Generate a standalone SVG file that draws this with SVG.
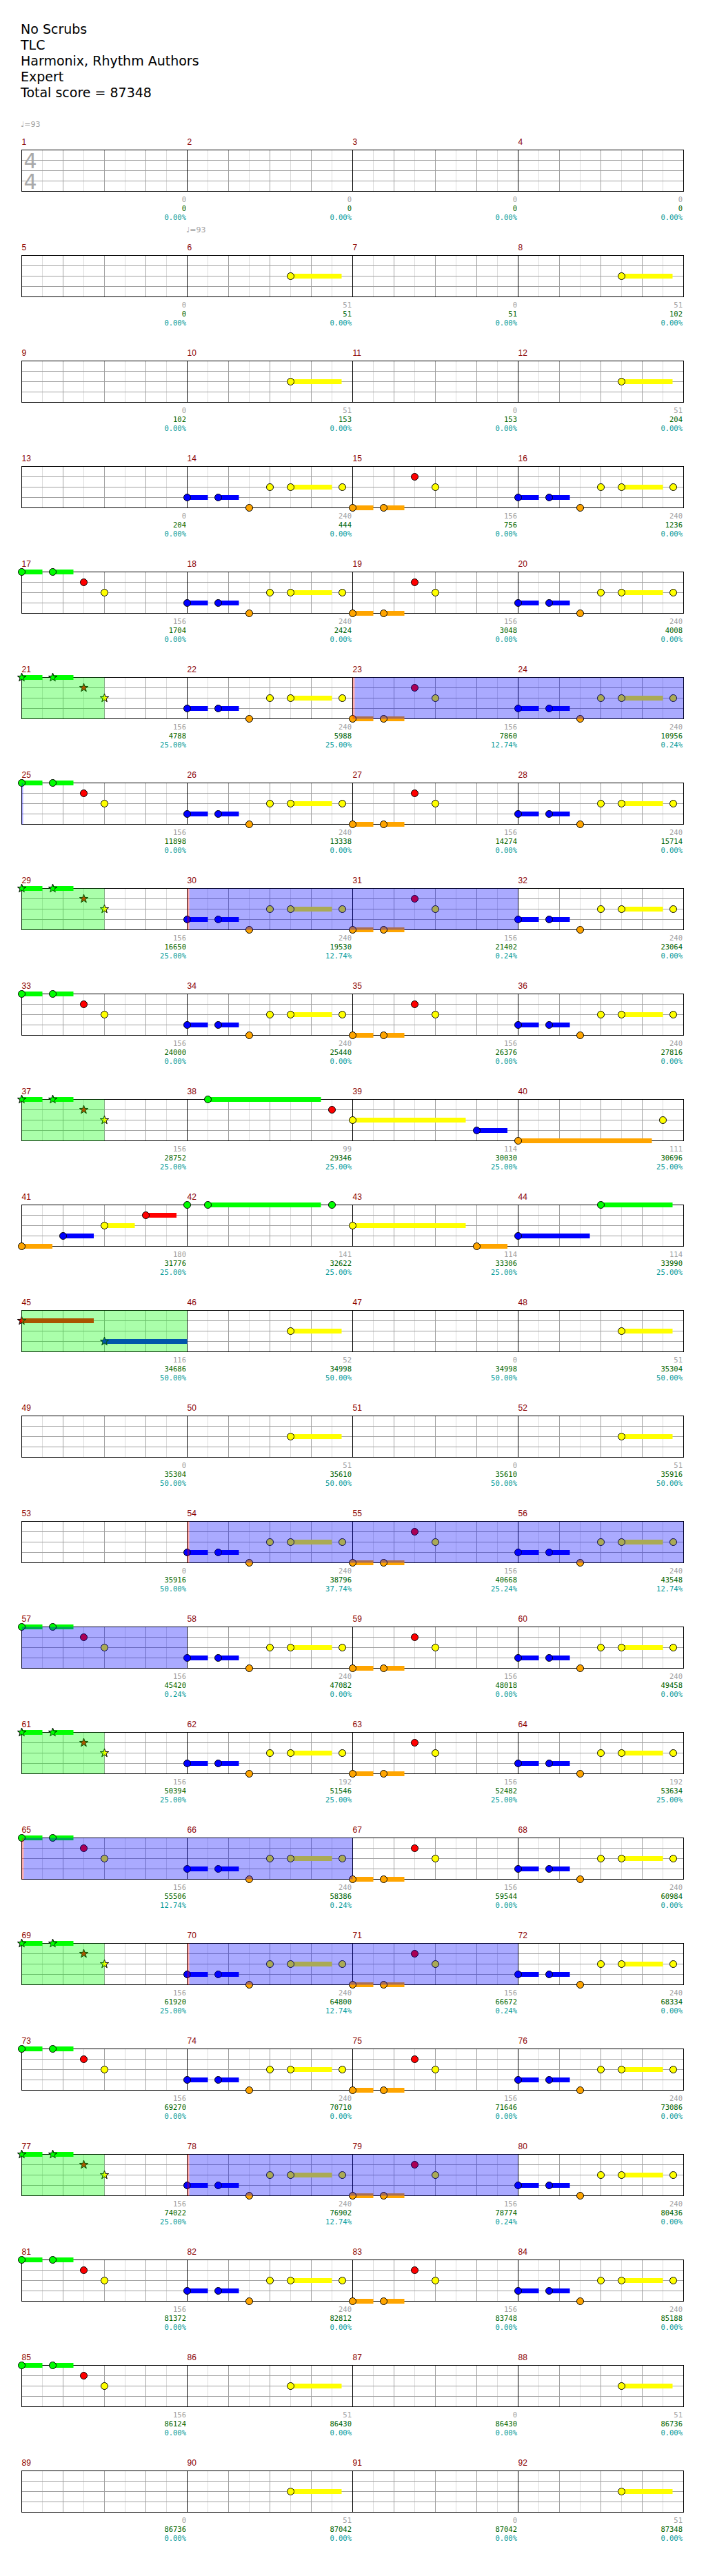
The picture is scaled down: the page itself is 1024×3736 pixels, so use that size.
<svg xmlns="http://www.w3.org/2000/svg" xmlns:xlink="http://www.w3.org/1999/xlink" width="1024" height="3736" viewBox="0 0 1024 3736">
<style>
.t{font-family:"DejaVu Sans",sans-serif;font-size:19px;fill:#000}
.mn{font-family:"Liberation Sans",Arial,sans-serif;font-size:12px;fill:#8b0000}
.n1,.n2,.n3{font-family:"DejaVu Sans Mono",monospace;font-size:10.5px;text-anchor:end}
.n1{fill:#a0a0a0}.n2{fill:#006400}.n3{fill:#009999}
.tempo{font-family:"DejaVu Sans",sans-serif;font-size:11px;fill:#a0a0a0}
.ts{font-family:"DejaVu Sans",sans-serif;font-size:30px;fill:#a9a9a9}
.hb{stroke:#dcdcdc;fill:none}
.bl{stroke:#a0a0a0;fill:none}
.ml{stroke:#000;fill:none}
.bd{fill:none;stroke:#000}
circle{stroke:#000;stroke-width:1}
.g{fill:#00ff00}.r{fill:#ff0000}.y{fill:#ffff00}.b{fill:#0000ff}.o{fill:#ffa500}
.od{fill:#0000ff;fill-opacity:0.333}
.sp{fill:#00ff00;fill-opacity:0.333}
.act{fill:#ff0000;fill-opacity:0.333}
</style>
<defs>
<path id="star" stroke="#000" stroke-width="1" d="M0,-6.5L1.53,-2.1L6.18,-2.01L2.47,0.8L3.82,5.26L0,2.6L-3.82,5.26L-2.47,0.8L-6.18,-2.01L-1.53,-2.1Z"/>
<g id="staff">
<rect width="960" height="60" fill="#fff"/>
<path class="hb" d="M30 0v60M90 0v60M150 0v60M210 0v60M270 0v60M330 0v60M390 0v60M450 0v60M510 0v60M570 0v60M630 0v60M690 0v60M750 0v60M810 0v60M870 0v60M930 0v60"/>
<path class="bl" d="M0 15h960M0 30h960M0 45h960M60 0v60M120 0v60M180 0v60M300 0v60M360 0v60M420 0v60M540 0v60M600 0v60M660 0v60M780 0v60M840 0v60M900 0v60"/>
<path class="ml" d="M240 0v60M480 0v60M720 0v60"/>
<rect class="bd" width="960" height="60"/>
</g>
<g id="pB">
<rect class="b" x="0" y="41.5" width="30" height="7"/>
<rect class="b" x="45" y="41.5" width="30" height="7"/>
<rect class="y" x="150" y="26.5" width="60" height="7"/>
<circle class="b" cx="0" cy="45" r="5"/>
<circle class="b" cx="45" cy="45" r="5"/>
<circle class="o" cx="90" cy="60" r="5"/>
<circle class="y" cx="120" cy="30" r="5"/>
<circle class="y" cx="150" cy="30" r="5"/>
<circle class="y" cx="225" cy="30" r="5"/>
</g>
<g id="pG">
<rect class="g" x="0" y="-3.5" width="30" height="7"/>
<rect class="g" x="45" y="-3.5" width="30" height="7"/>
<circle class="g" cx="0" cy="0" r="5"/>
<circle class="g" cx="45" cy="0" r="5"/>
<circle class="r" cx="90" cy="15" r="5"/>
<circle class="y" cx="120" cy="30" r="5"/>
</g>
<g id="pO">
<rect class="o" x="0" y="56.5" width="30" height="7"/>
<rect class="o" x="45" y="56.5" width="30" height="7"/>
<circle class="o" cx="0" cy="60" r="5"/>
<circle class="o" cx="45" cy="60" r="5"/>
<circle class="r" cx="90" cy="15" r="5"/>
<circle class="y" cx="120" cy="30" r="5"/>
</g>
<g id="pS">
<rect class="g" x="0" y="-3.5" width="30" height="7"/>
<rect class="g" x="45" y="-3.5" width="30" height="7"/>
<use xlink:href="#star" href="#star" class="g" x="0" y="0"/>
<use xlink:href="#star" href="#star" class="g" x="45" y="0"/>
<use xlink:href="#star" href="#star" class="r" x="90" y="15"/>
<use xlink:href="#star" href="#star" class="y" x="120" y="30"/>
</g>
<g id="pY">
<rect class="y" x="150" y="26.5" width="74" height="7"/>
<circle class="y" cx="150" cy="30" r="5"/>
</g>
</defs>
<rect width="1024" height="3736" fill="#fff"/>
<g id="header">
<text class="t" x="30" y="49">No Scrubs</text>
<text class="t" x="30" y="72">TLC</text>
<text class="t" x="30" y="95">Harmonix, Rhythm Authors</text>
<text class="t" x="30" y="118">Expert</text>
<text class="t" x="30" y="141">Total score = 87348</text>
<text class="tempo" x="30" y="184">♩=93</text>
<text class="tempo" x="270" y="337">♩=93</text>
</g>

<g id="row1" transform="translate(31.5,217.5)">
<use href="#staff"/>
<text class="ts" x="3" y="26.5">4</text><text class="ts" x="3" y="56.5">4</text>
<text class="mn" x="0" y="-7.5">1</text><text class="mn" x="240" y="-7.5">2</text><text class="mn" x="480" y="-7.5">3</text><text class="mn" x="720" y="-7.5">4</text>
<text class="n1" x="238.5" y="75">0</text><text class="n2" x="238.5" y="88">0</text><text class="n3" x="238.5" y="101">0.00%</text>
<text class="n1" x="478.5" y="75">0</text><text class="n2" x="478.5" y="88">0</text><text class="n3" x="478.5" y="101">0.00%</text>
<text class="n1" x="718.5" y="75">0</text><text class="n2" x="718.5" y="88">0</text><text class="n3" x="718.5" y="101">0.00%</text>
<text class="n1" x="958.5" y="75">0</text><text class="n2" x="958.5" y="88">0</text><text class="n3" x="958.5" y="101">0.00%</text>
</g>

<g id="row2" transform="translate(31.5,370.5)">
<use href="#staff"/>
<use href="#pY" x="240"/><use href="#pY" x="720"/>
<text class="mn" x="0" y="-7.5">5</text><text class="mn" x="240" y="-7.5">6</text><text class="mn" x="480" y="-7.5">7</text><text class="mn" x="720" y="-7.5">8</text>
<text class="n1" x="238.5" y="75">0</text><text class="n2" x="238.5" y="88">0</text><text class="n3" x="238.5" y="101">0.00%</text>
<text class="n1" x="478.5" y="75">51</text><text class="n2" x="478.5" y="88">51</text><text class="n3" x="478.5" y="101">0.00%</text>
<text class="n1" x="718.5" y="75">0</text><text class="n2" x="718.5" y="88">51</text><text class="n3" x="718.5" y="101">0.00%</text>
<text class="n1" x="958.5" y="75">51</text><text class="n2" x="958.5" y="88">102</text><text class="n3" x="958.5" y="101">0.00%</text>
</g>

<g id="row3" transform="translate(31.5,523.5)">
<use href="#staff"/>
<use href="#pY" x="240"/><use href="#pY" x="720"/>
<text class="mn" x="0" y="-7.5">9</text><text class="mn" x="240" y="-7.5">10</text><text class="mn" x="480" y="-7.5">11</text><text class="mn" x="720" y="-7.5">12</text>
<text class="n1" x="238.5" y="75">0</text><text class="n2" x="238.5" y="88">102</text><text class="n3" x="238.5" y="101">0.00%</text>
<text class="n1" x="478.5" y="75">51</text><text class="n2" x="478.5" y="88">153</text><text class="n3" x="478.5" y="101">0.00%</text>
<text class="n1" x="718.5" y="75">0</text><text class="n2" x="718.5" y="88">153</text><text class="n3" x="718.5" y="101">0.00%</text>
<text class="n1" x="958.5" y="75">51</text><text class="n2" x="958.5" y="88">204</text><text class="n3" x="958.5" y="101">0.00%</text>
</g>

<g id="row4" transform="translate(31.5,676.5)">
<use href="#staff"/>
<use href="#pB" x="240"/><use href="#pO" x="480"/><use href="#pB" x="720"/>
<text class="mn" x="0" y="-7.5">13</text><text class="mn" x="240" y="-7.5">14</text><text class="mn" x="480" y="-7.5">15</text><text class="mn" x="720" y="-7.5">16</text>
<text class="n1" x="238.5" y="75">0</text><text class="n2" x="238.5" y="88">204</text><text class="n3" x="238.5" y="101">0.00%</text>
<text class="n1" x="478.5" y="75">240</text><text class="n2" x="478.5" y="88">444</text><text class="n3" x="478.5" y="101">0.00%</text>
<text class="n1" x="718.5" y="75">156</text><text class="n2" x="718.5" y="88">756</text><text class="n3" x="718.5" y="101">0.00%</text>
<text class="n1" x="958.5" y="75">240</text><text class="n2" x="958.5" y="88">1236</text><text class="n3" x="958.5" y="101">0.00%</text>
</g>

<g id="row5" transform="translate(31.5,829.5)">
<use href="#staff"/>
<use href="#pG"/><use href="#pB" x="240"/><use href="#pO" x="480"/><use href="#pB" x="720"/>
<text class="mn" x="0" y="-7.5">17</text><text class="mn" x="240" y="-7.5">18</text><text class="mn" x="480" y="-7.5">19</text><text class="mn" x="720" y="-7.5">20</text>
<text class="n1" x="238.5" y="75">156</text><text class="n2" x="238.5" y="88">1704</text><text class="n3" x="238.5" y="101">0.00%</text>
<text class="n1" x="478.5" y="75">240</text><text class="n2" x="478.5" y="88">2424</text><text class="n3" x="478.5" y="101">0.00%</text>
<text class="n1" x="718.5" y="75">156</text><text class="n2" x="718.5" y="88">3048</text><text class="n3" x="718.5" y="101">0.00%</text>
<text class="n1" x="958.5" y="75">240</text><text class="n2" x="958.5" y="88">4008</text><text class="n3" x="958.5" y="101">0.00%</text>
</g>

<g id="row6" transform="translate(31.5,982.5)">
<use href="#staff"/>
<use href="#pS"/><use href="#pB" x="240"/><use href="#pO" x="480"/><use href="#pB" x="720"/>
<rect class="sp" x="0" y="0" width="120" height="60"/>
<rect class="act" x="480" y="0" width="3" height="60"/>
<rect class="od" x="483" y="0" width="477" height="60"/>
<text class="mn" x="0" y="-7.5">21</text><text class="mn" x="240" y="-7.5">22</text><text class="mn" x="480" y="-7.5">23</text><text class="mn" x="720" y="-7.5">24</text>
<text class="n1" x="238.5" y="75">156</text><text class="n2" x="238.5" y="88">4788</text><text class="n3" x="238.5" y="101">25.00%</text>
<text class="n1" x="478.5" y="75">240</text><text class="n2" x="478.5" y="88">5988</text><text class="n3" x="478.5" y="101">25.00%</text>
<text class="n1" x="718.5" y="75">156</text><text class="n2" x="718.5" y="88">7860</text><text class="n3" x="718.5" y="101">12.74%</text>
<text class="n1" x="958.5" y="75">240</text><text class="n2" x="958.5" y="88">10956</text><text class="n3" x="958.5" y="101">0.24%</text>
</g>

<g id="row7" transform="translate(31.5,1135.5)">
<use href="#staff"/>
<use href="#pG"/><use href="#pB" x="240"/><use href="#pO" x="480"/><use href="#pB" x="720"/>
<rect class="od" x="0" y="0" width="2" height="60"/>
<text class="mn" x="0" y="-7.5">25</text><text class="mn" x="240" y="-7.5">26</text><text class="mn" x="480" y="-7.5">27</text><text class="mn" x="720" y="-7.5">28</text>
<text class="n1" x="238.5" y="75">156</text><text class="n2" x="238.5" y="88">11898</text><text class="n3" x="238.5" y="101">0.00%</text>
<text class="n1" x="478.5" y="75">240</text><text class="n2" x="478.5" y="88">13338</text><text class="n3" x="478.5" y="101">0.00%</text>
<text class="n1" x="718.5" y="75">156</text><text class="n2" x="718.5" y="88">14274</text><text class="n3" x="718.5" y="101">0.00%</text>
<text class="n1" x="958.5" y="75">240</text><text class="n2" x="958.5" y="88">15714</text><text class="n3" x="958.5" y="101">0.00%</text>
</g>

<g id="row8" transform="translate(31.5,1288.5)">
<use href="#staff"/>
<use href="#pS"/><use href="#pB" x="240"/><use href="#pO" x="480"/><use href="#pB" x="720"/>
<rect class="sp" x="0" y="0" width="120" height="60"/>
<rect class="act" x="240" y="0" width="3" height="60"/>
<rect class="od" x="243" y="0" width="477" height="60"/>
<text class="mn" x="0" y="-7.5">29</text><text class="mn" x="240" y="-7.5">30</text><text class="mn" x="480" y="-7.5">31</text><text class="mn" x="720" y="-7.5">32</text>
<text class="n1" x="238.5" y="75">156</text><text class="n2" x="238.5" y="88">16650</text><text class="n3" x="238.5" y="101">25.00%</text>
<text class="n1" x="478.5" y="75">240</text><text class="n2" x="478.5" y="88">19530</text><text class="n3" x="478.5" y="101">12.74%</text>
<text class="n1" x="718.5" y="75">156</text><text class="n2" x="718.5" y="88">21402</text><text class="n3" x="718.5" y="101">0.24%</text>
<text class="n1" x="958.5" y="75">240</text><text class="n2" x="958.5" y="88">23064</text><text class="n3" x="958.5" y="101">0.00%</text>
</g>

<g id="row9" transform="translate(31.5,1441.5)">
<use href="#staff"/>
<use href="#pG"/><use href="#pB" x="240"/><use href="#pO" x="480"/><use href="#pB" x="720"/>
<text class="mn" x="0" y="-7.5">33</text><text class="mn" x="240" y="-7.5">34</text><text class="mn" x="480" y="-7.5">35</text><text class="mn" x="720" y="-7.5">36</text>
<text class="n1" x="238.5" y="75">156</text><text class="n2" x="238.5" y="88">24000</text><text class="n3" x="238.5" y="101">0.00%</text>
<text class="n1" x="478.5" y="75">240</text><text class="n2" x="478.5" y="88">25440</text><text class="n3" x="478.5" y="101">0.00%</text>
<text class="n1" x="718.5" y="75">156</text><text class="n2" x="718.5" y="88">26376</text><text class="n3" x="718.5" y="101">0.00%</text>
<text class="n1" x="958.5" y="75">240</text><text class="n2" x="958.5" y="88">27816</text><text class="n3" x="958.5" y="101">0.00%</text>
</g>

<g id="row10" transform="translate(31.5,1594.5)">
<use href="#staff"/>
<use href="#pS"/>
<rect class="g" x="270" y="-3.5" width="164" height="7"/>
<circle class="g" cx="270" cy="0" r="5"/>
<circle class="r" cx="450" cy="15" r="5"/>
<rect class="y" x="480" y="26.5" width="164" height="7"/>
<circle class="y" cx="480" cy="30" r="5"/>
<rect class="b" x="660" y="41.5" width="44.5" height="7"/>
<circle class="b" cx="660" cy="45" r="5"/>
<rect class="o" x="720" y="56.5" width="194" height="7"/>
<circle class="o" cx="720" cy="60" r="5"/>
<circle class="y" cx="930" cy="30" r="5"/>
<rect class="sp" x="0" y="0" width="120" height="60"/>
<text class="mn" x="0" y="-7.5">37</text><text class="mn" x="240" y="-7.5">38</text><text class="mn" x="480" y="-7.5">39</text><text class="mn" x="720" y="-7.5">40</text>
<text class="n1" x="238.5" y="75">156</text><text class="n2" x="238.5" y="88">28752</text><text class="n3" x="238.5" y="101">25.00%</text>
<text class="n1" x="478.5" y="75">99</text><text class="n2" x="478.5" y="88">29346</text><text class="n3" x="478.5" y="101">25.00%</text>
<text class="n1" x="718.5" y="75">114</text><text class="n2" x="718.5" y="88">30030</text><text class="n3" x="718.5" y="101">25.00%</text>
<text class="n1" x="958.5" y="75">111</text><text class="n2" x="958.5" y="88">30696</text><text class="n3" x="958.5" y="101">25.00%</text>
</g>

<g id="row11" transform="translate(31.5,1747.5)">
<use href="#staff"/>
<rect class="o" x="0" y="56.5" width="44.5" height="7"/>
<rect class="b" x="60" y="41.5" width="44.5" height="7"/>
<rect class="y" x="120" y="26.5" width="44" height="7"/>
<rect class="r" x="180" y="11.5" width="44.5" height="7"/>
<rect class="g" x="270" y="-3.5" width="164" height="7"/>
<rect class="y" x="480" y="26.5" width="164" height="7"/>
<rect class="o" x="660" y="56.5" width="44.5" height="7"/>
<rect class="b" x="720" y="41.5" width="104" height="7"/>
<rect class="g" x="840" y="-3.5" width="104" height="7"/>
<circle class="o" cx="0" cy="60" r="5"/>
<circle class="b" cx="60" cy="45" r="5"/>
<circle class="y" cx="120" cy="30" r="5"/>
<circle class="r" cx="180" cy="15" r="5"/>
<circle class="g" cx="240" cy="0" r="5"/>
<circle class="g" cx="270" cy="0" r="5"/>
<circle class="g" cx="450" cy="0" r="5"/>
<circle class="y" cx="480" cy="30" r="5"/>
<circle class="o" cx="660" cy="60" r="5"/>
<circle class="b" cx="720" cy="45" r="5"/>
<circle class="g" cx="840" cy="0" r="5"/>
<text class="mn" x="0" y="-7.5">41</text><text class="mn" x="240" y="-7.5">42</text><text class="mn" x="480" y="-7.5">43</text><text class="mn" x="720" y="-7.5">44</text>
<text class="n1" x="238.5" y="75">180</text><text class="n2" x="238.5" y="88">31776</text><text class="n3" x="238.5" y="101">25.00%</text>
<text class="n1" x="478.5" y="75">141</text><text class="n2" x="478.5" y="88">32622</text><text class="n3" x="478.5" y="101">25.00%</text>
<text class="n1" x="718.5" y="75">114</text><text class="n2" x="718.5" y="88">33306</text><text class="n3" x="718.5" y="101">25.00%</text>
<text class="n1" x="958.5" y="75">114</text><text class="n2" x="958.5" y="88">33990</text><text class="n3" x="958.5" y="101">25.00%</text>
</g>

<g id="row12" transform="translate(31.5,1900.5)">
<use href="#staff"/>
<rect class="r" x="0" y="11.5" width="104.5" height="7"/>
<rect class="b" x="120" y="41.5" width="120" height="7"/>
<use href="#star" class="r" x="0" y="15"/>
<use href="#star" class="b" x="120" y="45"/>
<use href="#pY" x="240"/><use href="#pY" x="720"/>
<rect class="sp" x="0" y="0" width="240" height="60"/>
<text class="mn" x="0" y="-7.5">45</text><text class="mn" x="240" y="-7.5">46</text><text class="mn" x="480" y="-7.5">47</text><text class="mn" x="720" y="-7.5">48</text>
<text class="n1" x="238.5" y="75">116</text><text class="n2" x="238.5" y="88">34686</text><text class="n3" x="238.5" y="101">50.00%</text>
<text class="n1" x="478.5" y="75">52</text><text class="n2" x="478.5" y="88">34998</text><text class="n3" x="478.5" y="101">50.00%</text>
<text class="n1" x="718.5" y="75">0</text><text class="n2" x="718.5" y="88">34998</text><text class="n3" x="718.5" y="101">50.00%</text>
<text class="n1" x="958.5" y="75">51</text><text class="n2" x="958.5" y="88">35304</text><text class="n3" x="958.5" y="101">50.00%</text>
</g>

<g id="row13" transform="translate(31.5,2053.5)">
<use href="#staff"/>
<use href="#pY" x="240"/><use href="#pY" x="720"/>
<text class="mn" x="0" y="-7.5">49</text><text class="mn" x="240" y="-7.5">50</text><text class="mn" x="480" y="-7.5">51</text><text class="mn" x="720" y="-7.5">52</text>
<text class="n1" x="238.5" y="75">0</text><text class="n2" x="238.5" y="88">35304</text><text class="n3" x="238.5" y="101">50.00%</text>
<text class="n1" x="478.5" y="75">51</text><text class="n2" x="478.5" y="88">35610</text><text class="n3" x="478.5" y="101">50.00%</text>
<text class="n1" x="718.5" y="75">0</text><text class="n2" x="718.5" y="88">35610</text><text class="n3" x="718.5" y="101">50.00%</text>
<text class="n1" x="958.5" y="75">51</text><text class="n2" x="958.5" y="88">35916</text><text class="n3" x="958.5" y="101">50.00%</text>
</g>

<g id="row14" transform="translate(31.5,2206.5)">
<use href="#staff"/>
<use href="#pB" x="240"/><use href="#pO" x="480"/><use href="#pB" x="720"/>
<rect class="act" x="240" y="0" width="3" height="60"/>
<rect class="od" x="243" y="0" width="717" height="60"/>
<text class="mn" x="0" y="-7.5">53</text><text class="mn" x="240" y="-7.5">54</text><text class="mn" x="480" y="-7.5">55</text><text class="mn" x="720" y="-7.5">56</text>
<text class="n1" x="238.5" y="75">0</text><text class="n2" x="238.5" y="88">35916</text><text class="n3" x="238.5" y="101">50.00%</text>
<text class="n1" x="478.5" y="75">240</text><text class="n2" x="478.5" y="88">38796</text><text class="n3" x="478.5" y="101">37.74%</text>
<text class="n1" x="718.5" y="75">156</text><text class="n2" x="718.5" y="88">40668</text><text class="n3" x="718.5" y="101">25.24%</text>
<text class="n1" x="958.5" y="75">240</text><text class="n2" x="958.5" y="88">43548</text><text class="n3" x="958.5" y="101">12.74%</text>
</g>

<g id="row15" transform="translate(31.5,2359.5)">
<use href="#staff"/>
<use href="#pG"/><use href="#pB" x="240"/><use href="#pO" x="480"/><use href="#pB" x="720"/>
<rect class="od" x="0" y="0" width="240" height="60"/>
<text class="mn" x="0" y="-7.5">57</text><text class="mn" x="240" y="-7.5">58</text><text class="mn" x="480" y="-7.5">59</text><text class="mn" x="720" y="-7.5">60</text>
<text class="n1" x="238.5" y="75">156</text><text class="n2" x="238.5" y="88">45420</text><text class="n3" x="238.5" y="101">0.24%</text>
<text class="n1" x="478.5" y="75">240</text><text class="n2" x="478.5" y="88">47082</text><text class="n3" x="478.5" y="101">0.00%</text>
<text class="n1" x="718.5" y="75">156</text><text class="n2" x="718.5" y="88">48018</text><text class="n3" x="718.5" y="101">0.00%</text>
<text class="n1" x="958.5" y="75">240</text><text class="n2" x="958.5" y="88">49458</text><text class="n3" x="958.5" y="101">0.00%</text>
</g>

<g id="row16" transform="translate(31.5,2512.5)">
<use href="#staff"/>
<use href="#pS"/><use href="#pB" x="240"/><use href="#pO" x="480"/><use href="#pB" x="720"/>
<rect class="sp" x="0" y="0" width="120" height="60"/>
<text class="mn" x="0" y="-7.5">61</text><text class="mn" x="240" y="-7.5">62</text><text class="mn" x="480" y="-7.5">63</text><text class="mn" x="720" y="-7.5">64</text>
<text class="n1" x="238.5" y="75">156</text><text class="n2" x="238.5" y="88">50394</text><text class="n3" x="238.5" y="101">25.00%</text>
<text class="n1" x="478.5" y="75">192</text><text class="n2" x="478.5" y="88">51546</text><text class="n3" x="478.5" y="101">25.00%</text>
<text class="n1" x="718.5" y="75">156</text><text class="n2" x="718.5" y="88">52482</text><text class="n3" x="718.5" y="101">25.00%</text>
<text class="n1" x="958.5" y="75">192</text><text class="n2" x="958.5" y="88">53634</text><text class="n3" x="958.5" y="101">25.00%</text>
</g>

<g id="row17" transform="translate(31.5,2665.5)">
<use href="#staff"/>
<use href="#pG"/><use href="#pB" x="240"/><use href="#pO" x="480"/><use href="#pB" x="720"/>
<rect class="act" x="0" y="0" width="3" height="60"/>
<rect class="od" x="3" y="0" width="477" height="60"/>
<text class="mn" x="0" y="-7.5">65</text><text class="mn" x="240" y="-7.5">66</text><text class="mn" x="480" y="-7.5">67</text><text class="mn" x="720" y="-7.5">68</text>
<text class="n1" x="238.5" y="75">156</text><text class="n2" x="238.5" y="88">55506</text><text class="n3" x="238.5" y="101">12.74%</text>
<text class="n1" x="478.5" y="75">240</text><text class="n2" x="478.5" y="88">58386</text><text class="n3" x="478.5" y="101">0.24%</text>
<text class="n1" x="718.5" y="75">156</text><text class="n2" x="718.5" y="88">59544</text><text class="n3" x="718.5" y="101">0.00%</text>
<text class="n1" x="958.5" y="75">240</text><text class="n2" x="958.5" y="88">60984</text><text class="n3" x="958.5" y="101">0.00%</text>
</g>

<g id="row18" transform="translate(31.5,2818.5)">
<use href="#staff"/>
<use href="#pS"/><use href="#pB" x="240"/><use href="#pO" x="480"/><use href="#pB" x="720"/>
<rect class="sp" x="0" y="0" width="120" height="60"/>
<rect class="act" x="240" y="0" width="3" height="60"/>
<rect class="od" x="243" y="0" width="477" height="60"/>
<text class="mn" x="0" y="-7.5">69</text><text class="mn" x="240" y="-7.5">70</text><text class="mn" x="480" y="-7.5">71</text><text class="mn" x="720" y="-7.5">72</text>
<text class="n1" x="238.5" y="75">156</text><text class="n2" x="238.5" y="88">61920</text><text class="n3" x="238.5" y="101">25.00%</text>
<text class="n1" x="478.5" y="75">240</text><text class="n2" x="478.5" y="88">64800</text><text class="n3" x="478.5" y="101">12.74%</text>
<text class="n1" x="718.5" y="75">156</text><text class="n2" x="718.5" y="88">66672</text><text class="n3" x="718.5" y="101">0.24%</text>
<text class="n1" x="958.5" y="75">240</text><text class="n2" x="958.5" y="88">68334</text><text class="n3" x="958.5" y="101">0.00%</text>
</g>

<g id="row19" transform="translate(31.5,2971.5)">
<use href="#staff"/>
<use href="#pG"/><use href="#pB" x="240"/><use href="#pO" x="480"/><use href="#pB" x="720"/>
<text class="mn" x="0" y="-7.5">73</text><text class="mn" x="240" y="-7.5">74</text><text class="mn" x="480" y="-7.5">75</text><text class="mn" x="720" y="-7.5">76</text>
<text class="n1" x="238.5" y="75">156</text><text class="n2" x="238.5" y="88">69270</text><text class="n3" x="238.5" y="101">0.00%</text>
<text class="n1" x="478.5" y="75">240</text><text class="n2" x="478.5" y="88">70710</text><text class="n3" x="478.5" y="101">0.00%</text>
<text class="n1" x="718.5" y="75">156</text><text class="n2" x="718.5" y="88">71646</text><text class="n3" x="718.5" y="101">0.00%</text>
<text class="n1" x="958.5" y="75">240</text><text class="n2" x="958.5" y="88">73086</text><text class="n3" x="958.5" y="101">0.00%</text>
</g>

<g id="row20" transform="translate(31.5,3124.5)">
<use href="#staff"/>
<use href="#pS"/><use href="#pB" x="240"/><use href="#pO" x="480"/><use href="#pB" x="720"/>
<rect class="sp" x="0" y="0" width="120" height="60"/>
<rect class="act" x="240" y="0" width="3" height="60"/>
<rect class="od" x="243" y="0" width="477" height="60"/>
<text class="mn" x="0" y="-7.5">77</text><text class="mn" x="240" y="-7.5">78</text><text class="mn" x="480" y="-7.5">79</text><text class="mn" x="720" y="-7.5">80</text>
<text class="n1" x="238.5" y="75">156</text><text class="n2" x="238.5" y="88">74022</text><text class="n3" x="238.5" y="101">25.00%</text>
<text class="n1" x="478.5" y="75">240</text><text class="n2" x="478.5" y="88">76902</text><text class="n3" x="478.5" y="101">12.74%</text>
<text class="n1" x="718.5" y="75">156</text><text class="n2" x="718.5" y="88">78774</text><text class="n3" x="718.5" y="101">0.24%</text>
<text class="n1" x="958.5" y="75">240</text><text class="n2" x="958.5" y="88">80436</text><text class="n3" x="958.5" y="101">0.00%</text>
</g>

<g id="row21" transform="translate(31.5,3277.5)">
<use href="#staff"/>
<use href="#pG"/><use href="#pB" x="240"/><use href="#pO" x="480"/><use href="#pB" x="720"/>
<text class="mn" x="0" y="-7.5">81</text><text class="mn" x="240" y="-7.5">82</text><text class="mn" x="480" y="-7.5">83</text><text class="mn" x="720" y="-7.5">84</text>
<text class="n1" x="238.5" y="75">156</text><text class="n2" x="238.5" y="88">81372</text><text class="n3" x="238.5" y="101">0.00%</text>
<text class="n1" x="478.5" y="75">240</text><text class="n2" x="478.5" y="88">82812</text><text class="n3" x="478.5" y="101">0.00%</text>
<text class="n1" x="718.5" y="75">156</text><text class="n2" x="718.5" y="88">83748</text><text class="n3" x="718.5" y="101">0.00%</text>
<text class="n1" x="958.5" y="75">240</text><text class="n2" x="958.5" y="88">85188</text><text class="n3" x="958.5" y="101">0.00%</text>
</g>

<g id="row22" transform="translate(31.5,3430.5)">
<use href="#staff"/>
<use href="#pG"/><use href="#pY" x="240"/><use href="#pY" x="720"/>
<text class="mn" x="0" y="-7.5">85</text><text class="mn" x="240" y="-7.5">86</text><text class="mn" x="480" y="-7.5">87</text><text class="mn" x="720" y="-7.5">88</text>
<text class="n1" x="238.5" y="75">156</text><text class="n2" x="238.5" y="88">86124</text><text class="n3" x="238.5" y="101">0.00%</text>
<text class="n1" x="478.5" y="75">51</text><text class="n2" x="478.5" y="88">86430</text><text class="n3" x="478.5" y="101">0.00%</text>
<text class="n1" x="718.5" y="75">0</text><text class="n2" x="718.5" y="88">86430</text><text class="n3" x="718.5" y="101">0.00%</text>
<text class="n1" x="958.5" y="75">51</text><text class="n2" x="958.5" y="88">86736</text><text class="n3" x="958.5" y="101">0.00%</text>
</g>

<g id="row23" transform="translate(31.5,3583.5)">
<use href="#staff"/>
<use href="#pY" x="240"/><use href="#pY" x="720"/>
<text class="mn" x="0" y="-7.5">89</text><text class="mn" x="240" y="-7.5">90</text><text class="mn" x="480" y="-7.5">91</text><text class="mn" x="720" y="-7.5">92</text>
<text class="n1" x="238.5" y="75">0</text><text class="n2" x="238.5" y="88">86736</text><text class="n3" x="238.5" y="101">0.00%</text>
<text class="n1" x="478.5" y="75">51</text><text class="n2" x="478.5" y="88">87042</text><text class="n3" x="478.5" y="101">0.00%</text>
<text class="n1" x="718.5" y="75">0</text><text class="n2" x="718.5" y="88">87042</text><text class="n3" x="718.5" y="101">0.00%</text>
<text class="n1" x="958.5" y="75">51</text><text class="n2" x="958.5" y="88">87348</text><text class="n3" x="958.5" y="101">0.00%</text>
</g>
</svg>
